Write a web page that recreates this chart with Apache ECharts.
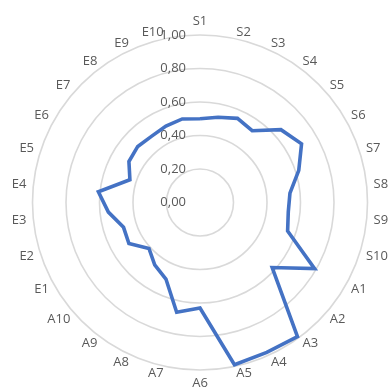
<!DOCTYPE html>
<html>
<head>
<meta charset="utf-8">
<style>
  html, body { margin: 0; padding: 0; background: #ffffff; }
  #chart { width: 388px; height: 392px; }
</style>
<script src="https://cdn.jsdelivr.net/npm/echarts@6/dist/echarts.min.js"></script>
</head>
<body>
<div id="chart"></div>
<script>
// Indicator names, clockwise from the top
const categories = [
  'S1', 'S2', 'S3', 'S4', 'S5', 'S6', 'S7', 'S8', 'S9', 'S10',
  'A1', 'A2', 'A3', 'A4', 'A5', 'A6', 'A7', 'A8', 'A9', 'A10',
  'E1', 'E2', 'E3', 'E4', 'E5', 'E6', 'E7', 'E8', 'E9', 'E10'
];

// Score for each indicator
const scores = [
  0.50, 0.52, 0.55, 0.53, 0.65, 0.70, 0.62, 0.54, 0.53, 0.55,
  0.79, 0.58, 0.99, 0.98, 0.99, 0.63, 0.67, 0.50, 0.46, 0.41,
  0.49, 0.48, 0.55, 0.61, 0.44, 0.49, 0.50, 0.49, 0.50, 0.51
];

// Radial scale
const scaleMin = 0;
const scaleMax = 1;
const scaleSteps = 5;

const FONT = 'Open Sans';
const TEXT_COLOR = '#595959';
const fmt = v => Number(v).toFixed(2).replace('.', ',');

// The radar lays indicators out counter-clockwise, so keep the first one at
// the top and reverse the rest to get a clockwise order.
const order = [0].concat(categories.map((_, i) => i).slice(1).reverse());

const indicators = order.map((idx, k) => {
  const ind = { name: categories[idx], min: scaleMin, max: scaleMax };
  if (k === 0) {
    ind.axisLabel = {
      show: true,
      color: TEXT_COLOR,
      fontFamily: FONT,
      fontSize: 13,
      margin: 14,
      formatter: fmt
    };
  }
  return ind;
});
const orderedScores = order.map(idx => scores[idx]);

const chart = echarts.init(document.getElementById('chart'), null, { renderer: 'canvas' });
chart.setOption({
  animation: false,
  backgroundColor: '#ffffff',
  radar: {
    center: [200, 202.5],
    radius: 167.5,
    startAngle: 90,
    shape: 'circle',
    splitNumber: scaleSteps,
    indicator: indicators,
    axisName: {
      color: TEXT_COLOR,
      fontFamily: FONT,
      fontSize: 13
    },
    nameGap: 7,
    axisLine: { show: false },
    axisTick: { show: false },
    axisLabel: { show: false },
    splitArea: { show: false },
    splitLine: { lineStyle: { color: '#d9d9d9', width: 1.6 } }
  },
  series: [{
    type: 'radar',
    symbol: 'none',
    data: [{ value: orderedScores, name: 'Score' }],
    lineStyle: { color: '#4472c4', width: 3.6, join: 'miter' },
    itemStyle: { color: '#4472c4' },
    areaStyle: null
  }]
});
</script>
</body>
</html>
